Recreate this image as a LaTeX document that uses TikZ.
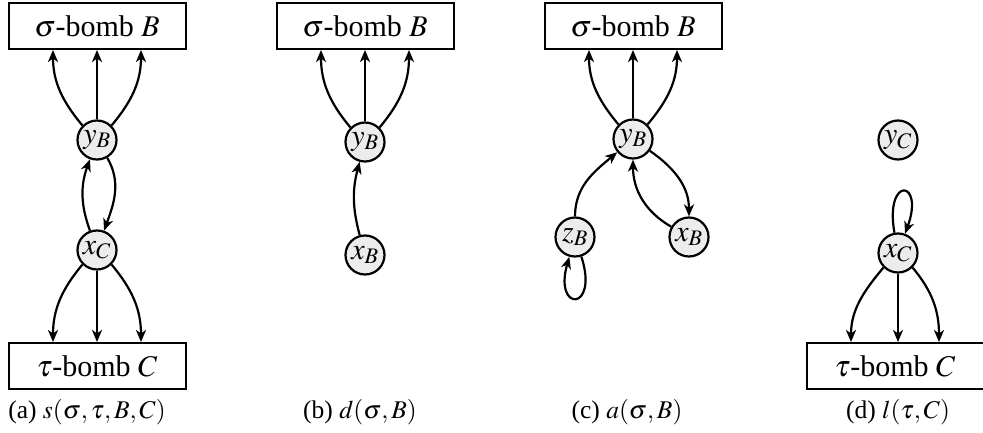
\documentclass[tikz,border=0pt]{standalone}
\usepackage{mathptmx}
\usepackage{fontspec}
\setmainfont{Liberation Serif}
\usepackage{tikz}
\usetikzlibrary{arrows.meta}
\tikzset{
  bomb/.style={draw, line width=2pt, minimum width=177pt, minimum height=46pt, inner sep=0pt, font=\fontsize{30}{32}\selectfont},
  var/.style={draw, circle, fill=gray!15, line width=2.2pt, minimum size=39pt, inner sep=0pt, font=\fontsize{30}{32}\selectfont},
  edge/.style={-{Stealth[length=12pt,width=10pt,inset=3.5pt]}, line width=2.2pt},
  subcap/.style={font=\fontsize{25.5}{27}\selectfont}
}

\begin{document}
\begin{tikzpicture}[x=1pt,y=1pt]
  \useasboundingbox (0,0) rectangle (983,-433);

  % (a)
  \node[bomb] (sigA) at (97,-26) {$\sigma$-bomb $B$};
  \node[var] (yA) at (97,-140) {$y_B$};
  \node[var] (xA) at (97,-250) {$x_C$};
  \node[bomb] (tauA) at (97,-366) {$\tau$-bomb $C$};
  \node[subcap] (capA) at (87,-412) {(a) $s(\sigma,\tau,B,C)$};

  \draw[edge] (yA) -- (sigA);
  \draw[edge] (yA.135) to[out=130,in=-90] ([xshift=-44pt]sigA.south);
  \draw[edge] (yA.45) to[out=50,in=-90] ([xshift=44pt]sigA.south);
  \draw[edge] (yA) to[out=-60,in=70] (xA);
  \draw[edge] (xA) to[out=110,in=-110] (yA);
  \draw[edge] (xA) -- (tauA);
  \draw[edge] (xA.-135) to[out=-130,in=90] ([xshift=-44pt]tauA.north);
  \draw[edge] (xA.-45) to[out=-50,in=90] ([xshift=44pt]tauA.north);

  % (b)
  \node[bomb] (sigB) at (365,-26) {$\sigma$-bomb $B$};
  \node[var] (yB) at (365,-142) {$y_B$};
  \node[var] (xB) at (365,-255) {$x_B$};
  \node[subcap] (capB) at (360,-412) {(b) $d(\sigma,B)$};

  \draw[edge] (yB) -- (sigB);
  \draw[edge] (yB.135) to[out=130,in=-90] ([xshift=-44pt]sigB.south);
  \draw[edge] (yB.45) to[out=50,in=-90] ([xshift=44pt]sigB.south);
  \draw[edge] (xB) to[out=105,in=-105] (yB);

  % (c)
  \node[bomb] (sigC) at (633,-26) {$\sigma$-bomb $B$};
  \node[var] (yC) at (633,-139) {$y_B$};
  \node[var] (zC) at (575,-237) {$z_B$};
  \node[var] (xCc) at (689,-237) {$x_B$};
  \node[subcap] (capC) at (627,-412) {(c) $a(\sigma,B)$};

  \draw[edge] (yC) -- (sigC);
  \draw[edge] (yC.135) to[out=130,in=-90] ([xshift=-44pt]sigC.south);
  \draw[edge] (yC.45) to[out=50,in=-90] ([xshift=44pt]sigC.south);
  \draw[edge] (zC) to[out=90,in=-140] (yC);
  \draw[edge] (yC) to[out=-35,in=90] (xCc);
  \draw[edge] (xCc) to[out=150,in=-90] (yC);
  \draw[edge] (zC) to[out=-72,in=-106,distance=58pt] (zC);

  % (d)
  \node[var] (yD) at (898,-140) {$y_C$};
  \node[var] (xD) at (898,-253) {$x_C$};
  \node[bomb] (tauD) at (895,-366) {$\tau$-bomb $C$};
  \node[subcap] (capD) at (898,-412) {(d) $l(\tau,C)$};

  \draw[edge] (xD) to[out=100,in=70,distance=58pt] (xD);
  \draw[edge] (xD) -- (xD |- tauD.north);
  \draw[edge] (xD.-135) to[out=-130,in=90] ([xshift=-44pt]tauD.north);
  \draw[edge] (xD.-45) to[out=-50,in=90] ([xshift=44pt]tauD.north);
\end{tikzpicture}
\end{document}
